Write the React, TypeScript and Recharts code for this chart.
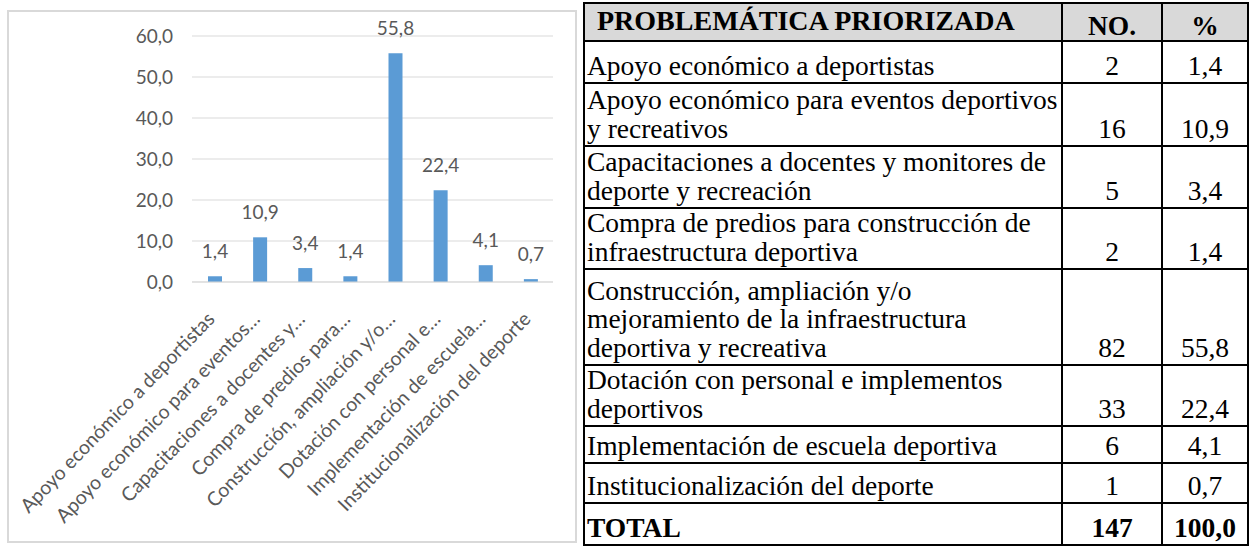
import React from 'react'
import { BarChart, Bar, XAxis, YAxis, CartesianGrid, LabelList } from 'recharts'

// categories as written in the table (line breaks as in the source document)
const problemas = [
  'Apoyo económico a deportistas',
  'Apoyo económico para eventos deportivos\ny recreativos',
  'Capacitaciones a docentes y monitores de\ndeporte y recreación',
  'Compra de predios para construcción de\ninfraestructura deportiva',
  'Construcción, ampliación y/o\nmejoramiento de la infraestructura\ndeportiva y recreativa',
  'Dotación con personal e implementos\ndeportivos',
  'Implementación de escuela deportiva',
  'Institucionalización del deporte',
]

// category labels as shown (truncated) on the chart axis
const axisLabels = [
  'Apoyo económico a deportistas',
  'Apoyo económico para eventos…',
  'Capacitaciones a docentes y…',
  'Compra de predios para…',
  'Construcción, ampliación y/o…',
  'Dotación con personal e…',
  'Implementación de escuela…',
  'Institucionalización del deporte',
]

const cantidades = [2, 16, 5, 2, 82, 33, 6, 1]
const porcentajes = [1.4, 10.9, 3.4, 1.4, 55.8, 22.4, 4.1, 0.7]
const yTicks = [0, 10, 20, 30, 40, 50, 60]
const totalNo = '147'
const totalPct = '100,0'

const rowHeights = [42, 63, 62, 61, 96, 61, 37, 40]

const fmt = (v: number) => v.toFixed(1).replace('.', ',')

const chartData = axisLabels.map((label, i) => ({ label, pct: porcentajes[i] }))

const gray = '#595959'
const chartFont = 'Lato, "Open Sans", sans-serif'

const AngledTick = ({ x, y, payload }: any) => {
  const ax = x - 4
  const ay = y + 31
  return (
    <text
      x={ax}
      y={ay}
      textAnchor="end"
      dominantBaseline="central"
      transform={`rotate(-46, ${ax}, ${ay})`}
      fill={gray}
      fontSize={19.5}
      fontFamily={chartFont}
    >
      {payload.value}
    </text>
  )
}

const cell: React.CSSProperties = {
  border: '2px solid #000',
  padding: '0 2px 2px 2px',
  verticalAlign: 'bottom',
  whiteSpace: 'pre',
}

export default function App() {
  return (
    <div style={{ position: 'absolute', left: 0, top: 0, width: 1249, height: 550, background: '#fff' }}>
      <div
        style={{
          position: 'absolute',
          left: 7,
          top: 10,
          width: 570,
          height: 533,
          boxSizing: 'border-box',
          border: '2px solid #d9d9d9',
        }}
      />
      <div style={{ position: 'absolute', left: 7, top: 10 }}>
        <BarChart width={570} height={533} data={chartData} margin={{ top: 26, right: 24, left: 0, bottom: 0 }}>
          <CartesianGrid vertical={false} stroke="#d9d9d9" />
          <YAxis
            width={185}
            domain={[0, 60]}
            ticks={yTicks}
            tickFormatter={fmt}
            axisLine={false}
            tickLine={false}
            tickSize={0}
            tickMargin={19}
            tick={{ fill: gray, fontSize: 19, fontFamily: chartFont }}
          />
          <XAxis
            dataKey="label"
            height={261}
            interval={0}
            tickLine={false}
            tickSize={0}
            axisLine={{ stroke: '#d9d9d9' }}
            tick={<AngledTick />}
          />
          <Bar dataKey="pct" fill="#5b9bd5" barSize={14} isAnimationActive={false}>
            <LabelList
              dataKey="pct"
              position="top"
              offset={18}
              formatter={(v: any) => fmt(Number(v))}
              fill={gray}
              fontSize={19}
              fontFamily={chartFont}
            />
          </Bar>
        </BarChart>
      </div>

      <table
        style={{
          position: 'absolute',
          left: 583,
          top: 2,
          width: 664,
          borderCollapse: 'collapse',
          tableLayout: 'fixed',
          fontFamily: '"Liberation Serif", "Times New Roman", serif',
          fontSize: 27.5,
          lineHeight: '28.5px',
          color: '#000',
        }}
      >
        <colgroup>
          <col style={{ width: 478 }} />
          <col style={{ width: 100 }} />
          <col style={{ width: 86 }} />
        </colgroup>
        <thead>
          <tr style={{ height: 38, background: '#d9d9d9', fontWeight: 'bold' }}>
            <th style={{ ...cell, verticalAlign: 'middle', textAlign: 'left', padding: '0 0 2px 12px', fontSize: 28 }}>
              PROBLEMÁTICA PRIORIZADA
            </th>
            <th style={{ ...cell, textAlign: 'center', padding: 0 }}>NO.</th>
            <th style={{ ...cell, textAlign: 'center', padding: 0 }}>%</th>
          </tr>
        </thead>
        <tbody>
          {problemas.map((p, i) => (
            <tr key={i} style={{ height: rowHeights[i] }}>
              <td style={{ ...cell, textAlign: 'left' }}>{p}</td>
              <td style={{ ...cell, textAlign: 'center' }}>{cantidades[i]}</td>
              <td style={{ ...cell, textAlign: 'center' }}>{fmt(porcentajes[i])}</td>
            </tr>
          ))}
          <tr style={{ height: 42, fontWeight: 'bold' }}>
            <td style={{ ...cell, textAlign: 'left' }}>TOTAL</td>
            <td style={{ ...cell, textAlign: 'center' }}>{totalNo}</td>
            <td style={{ ...cell, textAlign: 'center' }}>{totalPct}</td>
          </tr>
        </tbody>
      </table>
    </div>
  )
}
